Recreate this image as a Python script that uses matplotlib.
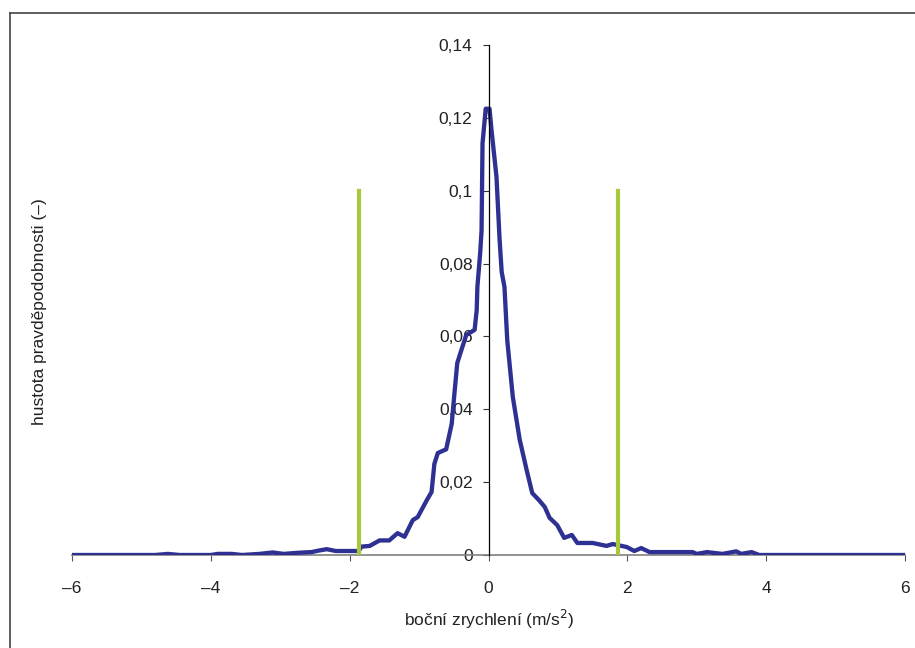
import matplotlib.pyplot as plt
from matplotlib.lines import Line2D
import numpy as np

plt.rcParams['font.family'] = ['Liberation Sans', 'DejaVu Sans']

# odečtené body hustoty pravděpodobnosti
zrychleni = [-6.0, -4.8, -4.62, -4.45, -4.0, -3.9, -3.7, -3.55, -3.3, -3.11, -2.95,
             -2.75, -2.55, -2.45, -2.33, -2.2, -2.0, -1.87, -1.83, -1.71, -1.57,
             -1.43, -1.31, -1.21, -1.09, -1.02, -0.89, -0.82, -0.78, -0.73, -0.61,
             -0.53, -0.49, -0.45, -0.39, -0.32, -0.20, -0.17, -0.16, -0.12, -0.10,
             -0.086, -0.04, 0.015, 0.043, 0.115, 0.16, 0.19, 0.23, 0.27, 0.35,
             0.45, 0.55, 0.63, 0.73, 0.81, 0.88, 0.99, 1.09, 1.20, 1.28, 1.50,
             1.70, 1.79, 1.99, 2.10, 2.20, 2.32, 2.94, 3.00, 3.15, 3.37, 3.57,
             3.64, 3.79, 3.90, 6.0]
hustota = [0, 0, 0.0003, 0, 0, 0.0003, 0.0003, 0, 0.0003, 0.0007, 0.0003,
           0.0006, 0.0008, 0.0012, 0.0016, 0.0011, 0.0011, 0.0011, 0.0023, 0.0025, 0.004,
           0.004, 0.006, 0.005, 0.0096, 0.0104, 0.015, 0.0173, 0.025, 0.028, 0.029,
           0.036, 0.0445, 0.0527, 0.0563, 0.0604, 0.0618, 0.0672, 0.0736, 0.0829, 0.089,
           0.113, 0.1225, 0.1225, 0.1167, 0.1038, 0.0865, 0.0777, 0.0736, 0.059, 0.0434,
           0.0316, 0.0233, 0.017, 0.015, 0.0132, 0.0102, 0.0082, 0.0047, 0.0055, 0.0033, 0.0033,
           0.0025, 0.003, 0.0022, 0.0011, 0.0019, 0.0008, 0.0008, 0.0003, 0.0008, 0.0003, 0.001,
           0.0003, 0.0008, 0, 0]

# meze (zelené čáry)
meze = [-1.87, 1.87]
vyska_mezi = 0.1

x_ticks = [-6, -4, -2, 0, 2, 4, 6]
x_labels = ['\u20136', '\u20134', '\u20132', '0', '2', '4', '6']
y_ticks = [0, 0.02, 0.04, 0.06, 0.08, 0.1, 0.12, 0.14]
y_labels = ['0', '0,02', '0,04', '0,06', '0,08', '0,1', '0,12', '0,14']

fig = plt.figure(figsize=(9.15, 6.48), dpi=100)
ax = fig.add_axes([72/915, 1-555/648, 833/915, 510/648])

ax.plot(zrychleni, hustota, color='#2E3192', linewidth=3.1, zorder=3,
        solid_joinstyle='round')
for m in meze:
    ax.plot([m, m], [0, vyska_mezi], color='#A6C83A', linewidth=3.0, zorder=4)

ax.set_xlim(-6, 6)
ax.set_ylim(0, 0.14)

ax.spines['top'].set_visible(False)
ax.spines['right'].set_visible(False)
ax.spines['left'].set_position(('data', 0))
ax.spines['left'].set_color('black')
ax.spines['left'].set_linewidth(0.9)
ax.spines['left'].set_zorder(5)
ax.spines['bottom'].set_color('#808080')
ax.spines['bottom'].set_linewidth(1.2)

ax.set_xticks(x_ticks)
ax.set_xticklabels(x_labels)
ax.set_yticks(y_ticks)
ax.set_yticklabels(y_labels)
ax.tick_params(axis='x', direction='out', length=4.5, width=0.8, color='#555555',
               pad=14, labelsize=12.5, labelcolor='#222222')
ax.tick_params(axis='y', direction='out', length=4.5, width=0.8, color='#333333',
               pad=7, labelsize=12.5, labelcolor='#222222')

fig.text(489/915, 1-619/648, 'boční zrychlení (m/s$^2$)', ha='center', va='center',
         fontsize=12.5, color='#222222')
fig.text(40/915, 1-312/648, 'hustota pravděpodobnosti (\u2013)', rotation=90,
         ha='center', va='center', fontsize=12.5, color='#222222')

# rámeček
fig.add_artist(Line2D([9.5/915, 9.5/915], [0, 1-12.5/648], color='#444444', linewidth=1.2))
fig.add_artist(Line2D([9.5/915, 1], [1-12.5/648, 1-12.5/648], color='#444444', linewidth=1.2))

fig.savefig('out.png', dpi=100)
